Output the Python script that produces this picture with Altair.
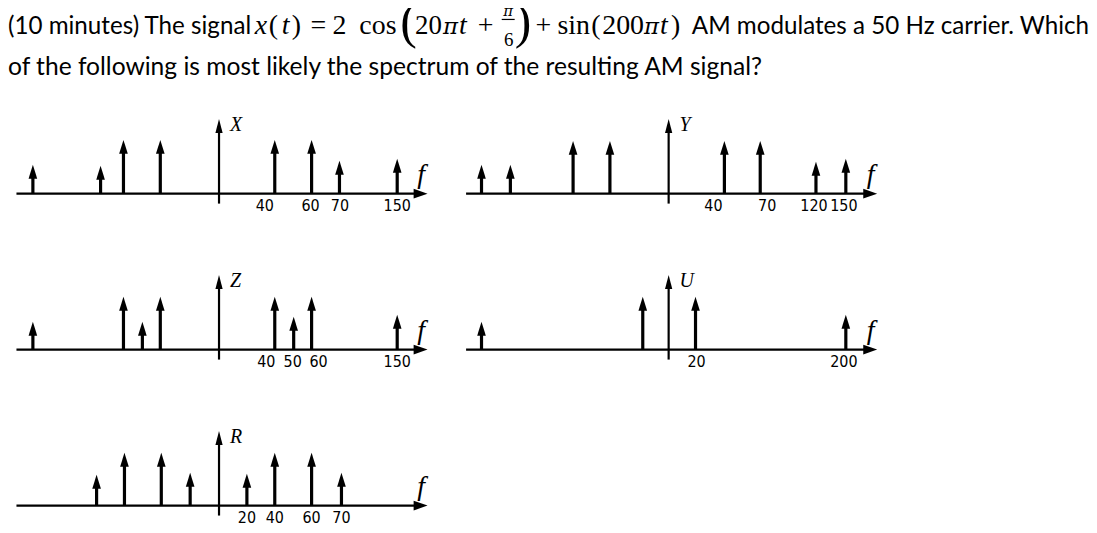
import altair as alt
import pandas as pd

# ---------------- question text ----------------
Q_LINE1_A = "(10 minutes) The signal"
Q_LINE1_B = "AM modulates a 50 Hz carrier. Which"
Q_LINE2 = "of the following is most likely the spectrum of the resulting AM signal?"

# ---------------- spectra (schematic position along f axis, arrow height) ----------------
X_POS = [-187, -119, -96, -59, 56, 93, 121, 179]
X_H = [29, 28, 54, 54, 54, 54, 33, 35]
X_LBL = ["40", "60", "70", "150"]
X_LPOS = [46, 92, 121.5, 179]

Y_POS = [-188, -159, -96, -59, 56, 92, 148, 178]
Y_H = [29, 29, 53, 53, 53, 53, 32, 35]
Y_LBL = ["40", "70", "120", "150"]
Y_LPOS = [45, 99, 146, 176]

Z_POS = [-187, -96, -77, -59, 56, 75, 93, 179]
Z_H = [28, 53, 28, 53, 53, 33, 53, 35]
Z_LBL = ["40", "50", "60", "150"]
Z_LPOS = [47.5, 74, 100, 179]

U_POS = [-188, -26, 27, 178]
U_H = [28, 53, 53, 35]
U_LBL = ["20", "200"]
U_LPOS = [28, 176]

R_POS = [-123, -95, -58, -29, 28, 56, 93, 123]
R_H = [31, 53, 53, 33, 32, 53, 53, 33]
R_LBL = ["20", "40", "60", "70"]
R_LPOS = [28, 56, 93, 123]

PANELS = [("X", X_POS, X_H, X_LBL, X_LPOS), ("Y", Y_POS, Y_H, Y_LBL, Y_LPOS),
          ("Z", Z_POS, Z_H, Z_LBL, Z_LPOS), ("U", U_POS, U_H, U_LBL, U_LPOS),
          ("R", R_POS, R_H, R_LBL, R_LPOS)]

# ---------------- layout (code, not data) ----------------
W, H = 1086, 521
TOP = H - 517
LAYOUT = {"X": (212.0, 331.7 + TOP), "Y": (663.7, 331.7 + TOP), "Z": (212.0, 175.0 + TOP),
          "U": (663.7, 175.0 + TOP), "R": (212.0, 18.3 + TOP)}

arrow_rows, label_rows, frame_rows = [], [], []
for name, pos, hts, lbl, lpos in PANELS:
    cx, b = LAYOUT[name]
    frame_rows.append({"panel": name, "cx": cx, "base": b})
    for p, h in zip(pos, hts):
        arrow_rows.append({"panel": name, "x": cx + p, "y": b, "y2": b + h})
    for t, p in zip(lbl, lpos):
        label_rows.append({"panel": name, "x": cx + p, "y": b, "t": t})

arrows = pd.DataFrame(arrow_rows)
labels = pd.DataFrame(label_rows)
frames = pd.DataFrame(frame_rows)

XS = alt.Scale(domain=[0, W], nice=False, zero=False)
YS = alt.Scale(domain=[0, H], nice=False, zero=False)
ex = lambda f="x": alt.X(f"{f}:Q", scale=XS, axis=None)
ey = lambda f="y": alt.Y(f"{f}:Q", scale=YS, axis=None)

UP = "M0,0L0.62,2L-0.62,2Z"
UP_AX = "M0,0L0.52,2L-0.52,2Z"
RIGHT = "M0,0L-2,-0.7L-2,0.7Z"
BLACK = "#000000"

stems = alt.Chart(arrows).mark_rule(color=BLACK, strokeWidth=3.2, y2Offset=8).encode(
    x=ex(), y=ey(), y2=alt.Y2("y2:Q"))
heads = alt.Chart(arrows).mark_point(shape=UP, size=196, filled=True, color=BLACK,
                                     opacity=1, strokeWidth=0).encode(x=ex(), y=ey("y2"))

haxis = alt.Chart(frames).transform_calculate(
    x="datum.cx - 203.5", x2="datum.cx + 200", y="datum.base"
).mark_rule(color=BLACK, strokeWidth=2.3).encode(x=ex(), x2=alt.X2("x2:Q"), y=ey())
harrow = alt.Chart(frames).transform_calculate(
    x="datum.cx + 209.5", y="datum.base"
).mark_point(shape=RIGHT, size=196, filled=True, color=BLACK, opacity=1, strokeWidth=0).encode(
    x=ex(), y=ey())
vaxis = alt.Chart(frames).transform_calculate(
    x="datum.cx", y="datum.base - 10", y2="datum.base + 68"
).mark_rule(color=BLACK, strokeWidth=2.2).encode(x=ex(), y=ey(), y2=alt.Y2("y2:Q"))
varrow = alt.Chart(frames).transform_calculate(
    x="datum.cx", y="datum.base + 75"
).mark_point(shape=UP_AX, size=196, filled=True, color=BLACK, opacity=1, strokeWidth=0).encode(
    x=ex(), y=ey())
letters = alt.Chart(frames).transform_calculate(
    x="datum.cx + 11", y="datum.base + 63"
).mark_text(align="left", baseline="alphabetic", font="Liberation Serif", fontStyle="italic",
            fontSize=20, color=BLACK).encode(x=ex(), y=ey(), text="panel:N")
fsym = alt.Chart(frames).transform_calculate(
    x="datum.cx + 203", y="datum.base + 11", t="'f'"
).mark_text(align="center", baseline="alphabetic", font="Liberation Serif", fontStyle="italic",
            fontSize=28, color=BLACK).encode(x=ex(), y=ey(), text="t:N")
ticklabels = alt.Chart(labels).mark_text(
    align="center", baseline="middle", dy=12.7, font="DejaVu Sans Condensed",
    fontSize=16, color=BLACK).encode(x=ex(), y=ey(), text="t:N")

# ---------------- question text layers ----------------
one = pd.DataFrame({"k": [0]})
PROSE = "Lato"
SERIF = "Liberation Serif"
GREEK = "DejaVu Serif"


def seg(text, x, y, font, size, style="normal", align="left"):
    return alt.Chart(one).mark_text(text=text, x=x, y=y, align=align, baseline="alphabetic",
                                    font=font, fontSize=size, fontStyle=style, color=BLACK)


L1, L2 = 25, 66
M = 28
title_layers = [
    seg(Q_LINE1_A, 0, L1, PROSE, 24.3),
    seg("x", 248, L1, SERIF, M, "italic"),
    seg("(", 262, L1, SERIF, M),
    seg("t", 275, L1, SERIF, M, "italic"),
    seg(")", 285, L1, SERIF, M),
    seg("=", 304, L1, SERIF, M),
    seg("2", 326, L1, SERIF, M),
    seg("cos", 353, L1, SERIF, M),
    seg("(", 394, 29, SERIF, 50),
    seg("20", 409, L1, SERIF, 27),
    seg("\u03c0", 437, L1, GREEK, 23, "italic"),
    seg("t", 453, L1, SERIF, M, "italic"),
    seg("+", 472, L1, SERIF, M),
    seg("\u03c0", 502.5, 7, GREEK, 15, "italic", "center"),
    seg("6", 503, 37, SERIF, 19, "normal", "center"),
    seg(")", 509, 29, SERIF, 50),
    seg("+", 530, L1, SERIF, M),
    seg("sin", 552, L1, SERIF, M),
    seg("(", 586, L1, SERIF, M),
    seg("200", 597, L1, SERIF, M),
    seg("\u03c0", 639, L1, GREEK, 23, "italic"),
    seg("t", 655, L1, SERIF, M, "italic"),
    seg(")", 666, L1, SERIF, M),
    seg(Q_LINE1_B, 687, L1, PROSE, 24.3),
    seg(Q_LINE2, 0, L2, PROSE, 24.7),
]
frac_bar = alt.Chart(one).mark_rule(color=BLACK, strokeWidth=1.2).encode(
    x=alt.value(496), x2=alt.value(509), y=alt.value(10.3))

chart = alt.layer(
    haxis, harrow, vaxis, varrow, stems, heads, letters, fsym, ticklabels,
    *title_layers, frac_bar
).properties(
    width=W, height=H, padding=0, background="white",
    autosize=alt.AutoSizeParams(type="none")
).configure_view(stroke=None)

chart.save("out.html", embed_options={"renderer": "svg", "actions": False})
